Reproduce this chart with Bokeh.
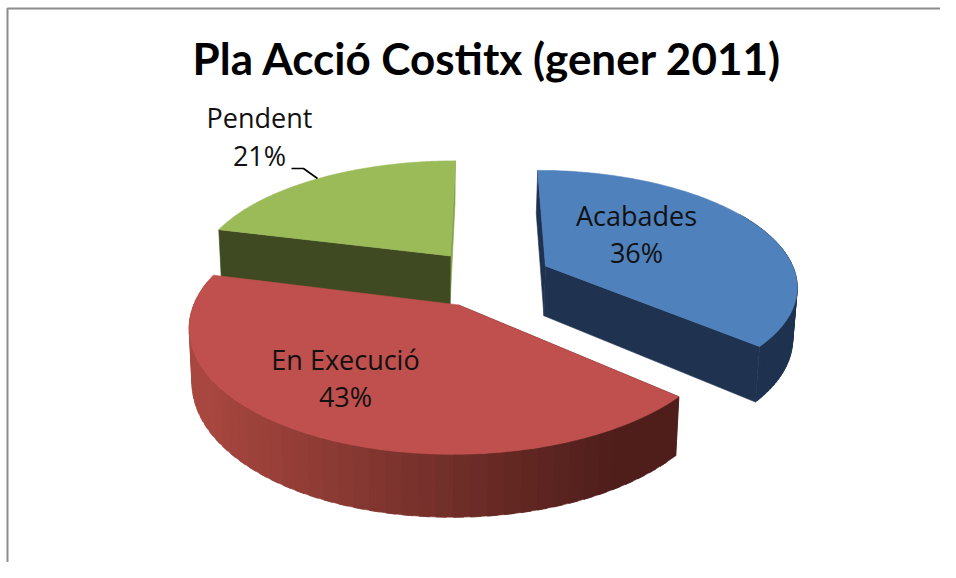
from math import sin, cos, radians
from bokeh.plotting import figure
from bokeh.models import Range1d, ColumnDataSource
from bokeh.core.properties import value
from bokeh.embed import file_html
from bokeh.resources import INLINE

TITLE = "Pla Acció Costitx (gener 2011)"
categories = ["Acabades", "En Execució", "Pendent"]
values = [36.4, 42.6, 21.0]
top_colors = ["#4f81bd", "#c0504d", "#9bbb59"]
side_colors = ["#1f3350", "#4f1e1b", "#404a22"]
sliver_colors = ["#1f3350", "#4f1e1b", "#86a44c"]

# 3D projection of the disc
VX, HORIZON, K, G = 487.0, -447.0, 4531.0, 1596.0
BOTTOM_K, BOTTOM_Q, BOTTOM_V = 1.07, 0.988, 420.0
# explosion of each slice: lateral offset and depth, in radii
offset_x = [0.231, -0.11, -0.15]
depth = [6.36, 6.03, 6.45]
radius = [0.985, 1.0, 1.01]


def project(i, theta, r=1.0, bottom=False):
    t = radians(theta)
    r = r * radius[i]
    z = depth[i] + r * cos(t)
    x = VX + G * (offset_x[i] + r * sin(t)) / z
    y = K / z
    if bottom:
        x = BOTTOM_V + (x - BOTTOM_V) * BOTTOM_Q
        y = HORIZON + y * BOTTOM_K
    else:
        y = HORIZON + y
    return x, y


def arc(i, a, b, n=120):
    return [project(i, a + (b - a) * j / n) for j in range(n + 1)]


def mix(c1, c2, f):
    a = [int(c1[k:k + 2], 16) for k in (1, 3, 5)]
    b = [int(c2[k:k + 2], 16) for k in (1, 3, 5)]
    return "#%02x%02x%02x" % tuple(round(p + (q - p) * f) for p, q in zip(a, b))


p = figure(width=940, height=562, output_backend="svg", toolbar_location=None,
           x_range=Range1d(0, 940), y_range=Range1d(562, 0),
           x_axis_type=None, y_axis_type=None, min_border=0,
           outline_line_color=None, background_fill_color="white",
           border_fill_color="white")
p.grid.visible = False

# frame
p.line([7, 7, 940], [562, 8, 8], line_color="#8c8c8c", line_width=2)

angles = []
start = 0.0
for v in values:
    angles.append((start, start + v * 3.6))
    start += v * 3.6

xs, ys, cols = [], [], []


def add(pts, col):
    xs.append([q[0] for q in pts])
    ys.append([q[1] for q in pts])
    cols.append(col)


def radial(i, theta, col):
    add([project(i, theta, 0.0), project(i, theta, 1.0),
         project(i, theta, 1.0, True), project(i, theta, 0.0, True)], col)


def rim(i, a, b, colfun, n=48):
    # each band reaches under the next one, so that no seams show
    step = (b - a) / n
    for j in range(n - 1, -1, -1):
        t0 = a + step * j
        t1 = min(t0 + step * 1.6, b)
        add([project(i, t0), project(i, t1), project(i, t1, 1.0, True),
             project(i, t0, 1.0, True)], colfun(project(i, t0 + step / 2)[0]))


def top(i):
    a, b = angles[i]
    add([project(i, a, 0.0)] + arc(i, a, b), top_colors[i])


def red_shade(x):
    return mix("#4f1e1b", "#a8473f", max(0.0, min(1.0, (620 - x) / 410)))


# green, then blue, then red: back to front
draw_order = [2, 0, 1]
for i in draw_order:
    a, b = angles[i]
    if i == 2:
        radial(i, b, sliver_colors[i])
        radial(i, a, side_colors[i])
        top(i)
    elif i == 0:
        radial(i, a, sliver_colors[i])
        radial(i, b, side_colors[i])
        rim(i, a + 60, b, lambda x: side_colors[0])
        top(i)
    else:
        radial(i, a, side_colors[i])
        rim(i, a, a + 150, red_shade)
        top(i)

src = ColumnDataSource(dict(xs=xs, ys=ys, color=cols))
p.patches("xs", "ys", source=src, fill_color="color", line_color="color", line_width=0.6)

# leader line for the outside label
p.line([291, 303, 317], [168, 168, 178], line_color="black", line_width=1.6)

# texts
p.text([487], [57], text=[TITLE], text_font=value("Lato"), text_font_style="bold",
       text_font_size="44px", text_color="black", text_align="center", text_baseline="middle")
label_x = [636, 345, 259]
label_y = [(215, 252), (359, 396), (117, 155)]
for i, name in enumerate(categories):
    pct = f"{round(values[i])}%"
    for txt, y in zip((name, pct), label_y[i]):
        p.text([label_x[i]], [y], text=[txt], text_font=value("Open Sans"),
               text_font_size="27px", text_color="#111111", text_align="center",
               text_baseline="middle")

open("out.html", "w").write(file_html(p, INLINE))
